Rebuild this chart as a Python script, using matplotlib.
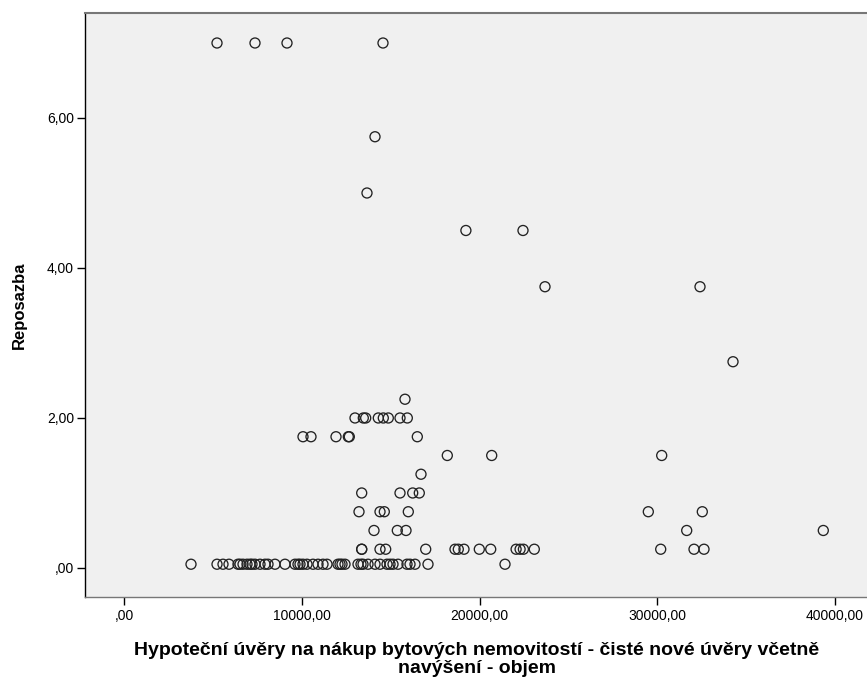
import matplotlib
matplotlib.use("Agg")
import matplotlib.pyplot as plt
from matplotlib.ticker import FuncFormatter

# Data (x = loan volume, y = repo rate)
x_vals = [
    # y ~ 0.05 row
    3756, 5220, 5557, 5895, 6402, 6515, 6684, 6909, 7078, 7190, 7359, 7641, 7922,
    8091, 8485, 9048, 9611, 9780, 9893, 10062, 10287, 10625, 10907, 11188, 11413,
    12032, 12146, 12258, 12427, 13159, 13328, 13440, 13722, 14116, 14398, 14792,
    14961, 15130, 15411, 15918, 16087, 16368, 17100, 21436,
    # 0.25
    13367, 13367, 14398, 14718, 16971, 18621, 18806, 19127, 19989, 20631, 22061,
    22286, 22472, 23086, 30203, 32078, 32641,
    # 0.5
    14059, 15372, 15862, 31667, 39358,
    # 0.75
    13215, 14398, 14640, 15991, 29505, 32545,
    # 1.0
    13367, 15524, 16239, 16610,
    # 1.25
    16706,
    # 1.5
    18187, 20687, 30259,
    # 1.75
    10062, 10512, 11920, 12613, 12669, 16498,
    # 2.0
    12990, 13457, 13592, 14302, 14583, 14865, 15524, 15935,
    # 2.25
    15805,
    # 2.75
    34274,
    # 3.75
    23688, 32416,
    # 4.5
    19234, 22449,
    # 5.0
    13665,
    # 5.75
    14116,
    # 7.0
    5220, 7359, 9161, 14566,
]
y_vals = (
    [0.05] * 44
    + [0.25] * 17
    + [0.5] * 5
    + [0.75] * 6
    + [1.0] * 4
    + [1.25] * 1
    + [1.5] * 3
    + [1.75] * 6
    + [2.0] * 8
    + [2.25] * 1
    + [2.75] * 1
    + [3.75] * 2
    + [4.5] * 2
    + [5.0] * 1
    + [5.75] * 1
    + [7.0] * 4
)

x_ticks = [0, 10000, 20000, 30000, 40000]
y_ticks = [0, 2, 4, 6]
x_label = "Hypoteční úvěry na nákup bytových nemovitostí - čisté nové úvěry včetně\nnavýšení - objem"
y_label = "Reposazba"

plt.rcParams['font.family'] = ['Liberation Sans', 'DejaVu Sans']

W, H = 867, 680
fig = plt.figure(figsize=(W / 100, H / 100), dpi=100)
fig.patch.set_facecolor("white")
left, right, top, bottom = 85, 868, 13, 597
ax = fig.add_axes([left / W, 1 - bottom / H, (right - left) / W, (bottom - top) / H])
ax.set_facecolor("#f0f0f0")

ax.scatter(x_vals, y_vals, s=52, facecolors="none", edgecolors="#222222",
           linewidths=0.95, zorder=3, clip_on=False)

ax.set_xlim(-2213, 41875)
ax.set_ylim(-0.387, 7.4)
ax.set_xticks(x_ticks)
ax.set_yticks(y_ticks)

def fmt(v, pos):
    s = f"{v:.2f}".replace(".", ",")
    if s.startswith("0,"):
        s = s[1:]
    return s

ax.xaxis.set_major_formatter(FuncFormatter(fmt))
ax.yaxis.set_major_formatter(FuncFormatter(fmt))
ax.tick_params(axis="both", direction="out", length=6, width=1.0, color="black",
               labelsize=10, labelcolor="black", pad=2)
ax.tick_params(axis="x", pad=3)

ax.spines["right"].set_visible(False)
ax.spines["top"].set_color("#777777")
ax.spines["top"].set_linewidth(1.5)
ax.spines["left"].set_color("black")
ax.spines["left"].set_linewidth(1.0)
ax.spines["bottom"].set_color("#777777")
ax.spines["bottom"].set_linewidth(1.0)

ax.set_xlabel(x_label, fontsize=14, fontweight="bold", labelpad=13, linespacing=1.12)
ax.set_ylabel(y_label, fontsize=12, fontweight="bold", labelpad=14)

fig.savefig("out.png", dpi=100)
